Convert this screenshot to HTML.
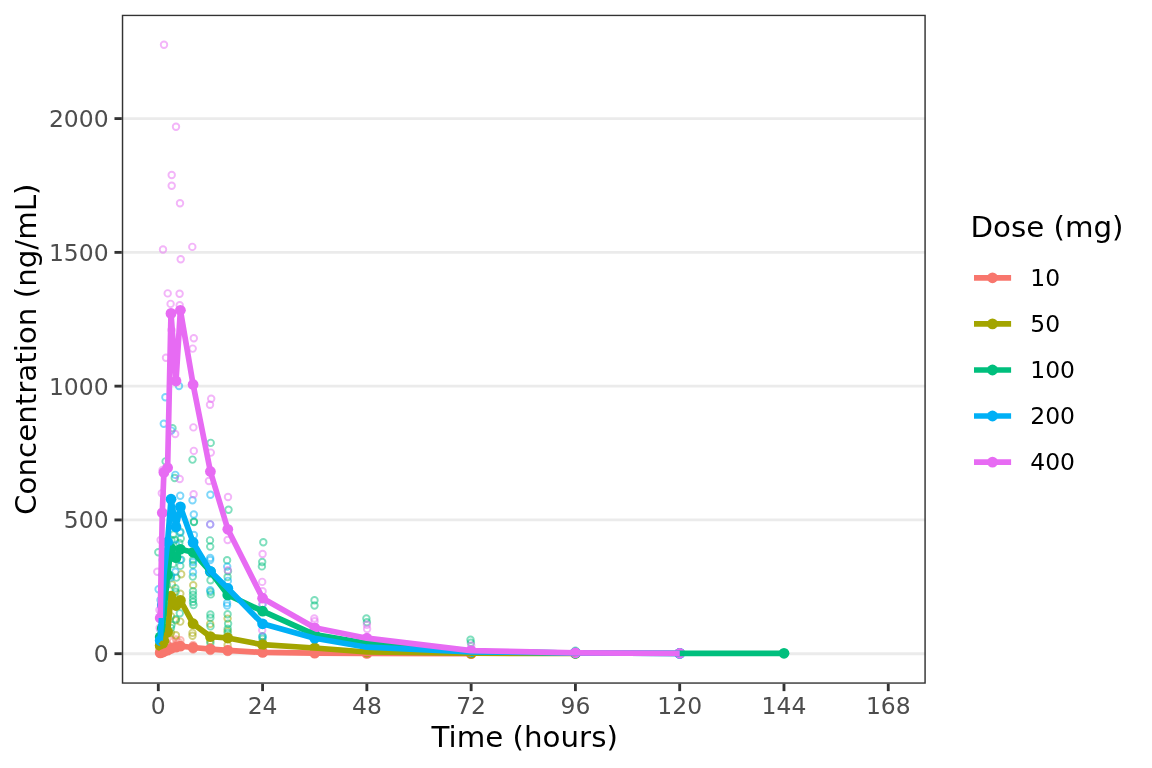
<!DOCTYPE html>
<html lang="en"><head><meta charset="utf-8"><title>Concentration vs time by dose</title>
<style>html,body{margin:0;padding:0;background:#fff}body{width:1152px;height:768px;overflow:hidden}svg{display:block}text{font-family:"DejaVu Sans", "Liberation Sans", sans-serif}.tk{font-size:23.47px;fill:#4D4D4D}.ti{font-size:29.33px;fill:#000}.lg{font-size:23.47px;fill:#000}.raw circle{fill:none;stroke-width:1.9;stroke-opacity:.5}</style></head><body>
<svg width="1152" height="768" viewBox="0 0 1152 768">
<rect width="1152" height="768" fill="#fff"/>
<clipPath id="pc"><rect x="121.80" y="14.67" width="804.00" height="669.13"/></clipPath>
<g clip-path="url(#pc)">
<line x1="121.8" x2="925.8" y1="653.70" y2="653.70" stroke="#EBEBEB" stroke-width="2.85"/>
<line x1="121.8" x2="925.8" y1="519.93" y2="519.93" stroke="#EBEBEB" stroke-width="2.85"/>
<line x1="121.8" x2="925.8" y1="386.15" y2="386.15" stroke="#EBEBEB" stroke-width="2.85"/>
<line x1="121.8" x2="925.8" y1="252.38" y2="252.38" stroke="#EBEBEB" stroke-width="2.85"/>
<line x1="121.8" x2="925.8" y1="118.60" y2="118.60" stroke="#EBEBEB" stroke-width="2.85"/>
<g class="raw">
<g stroke="#F8766D">
<circle cx="171.3" cy="640.0" r="3.25"/>
<circle cx="176.0" cy="639.5" r="3.25"/>
<circle cx="180.4" cy="640.3" r="3.25"/>
<circle cx="173.0" cy="641.5" r="3.25"/>
<circle cx="178.5" cy="642.0" r="3.25"/>
<circle cx="167.0" cy="644.0" r="3.25"/>
<circle cx="193.1" cy="645.0" r="3.25"/>
<circle cx="193.1" cy="649.5" r="3.25"/>
<circle cx="210.3" cy="647.5" r="3.25"/>
<circle cx="210.3" cy="651.0" r="3.25"/>
<circle cx="227.6" cy="649.0" r="3.25"/>
<circle cx="227.6" cy="652.0" r="3.25"/>
<circle cx="262.6" cy="652.0" r="3.25"/>
<circle cx="314.5" cy="653.0" r="3.25"/>
<circle cx="366.8" cy="653.4" r="3.25"/>
<circle cx="471.0" cy="653.6" r="3.25"/>
<circle cx="162.6" cy="648.0" r="3.25"/>
<circle cx="160.5" cy="651.0" r="3.25"/>
<circle cx="159.4" cy="652.5" r="3.25"/>
</g>
<g stroke="#A3A500">
<circle cx="181.2" cy="574.2" r="3.25"/>
<circle cx="172.0" cy="584.5" r="3.25"/>
<circle cx="180.3" cy="593.8" r="3.25"/>
<circle cx="172.5" cy="599.6" r="3.25"/>
<circle cx="171.0" cy="616.3" r="3.25"/>
<circle cx="175.9" cy="620.4" r="3.25"/>
<circle cx="180.3" cy="621.6" r="3.25"/>
<circle cx="175.9" cy="635.3" r="3.25"/>
<circle cx="171.0" cy="632.9" r="3.25"/>
<circle cx="193.2" cy="585.3" r="3.25"/>
<circle cx="192.5" cy="632.9" r="3.25"/>
<circle cx="192.5" cy="635.8" r="3.25"/>
<circle cx="210.2" cy="623.9" r="3.25"/>
<circle cx="227.6" cy="618.6" r="3.25"/>
<circle cx="227.6" cy="631.0" r="3.25"/>
<circle cx="227.6" cy="645.0" r="3.25"/>
<circle cx="167.0" cy="620.0" r="3.25"/>
<circle cx="167.2" cy="632.0" r="3.25"/>
<circle cx="162.6" cy="636.0" r="3.25"/>
<circle cx="162.7" cy="642.0" r="3.25"/>
<circle cx="160.5" cy="646.0" r="3.25"/>
<circle cx="159.4" cy="649.0" r="3.25"/>
<circle cx="210.3" cy="641.0" r="3.25"/>
<circle cx="262.6" cy="646.0" r="3.25"/>
<circle cx="262.6" cy="642.0" r="3.25"/>
<circle cx="314.5" cy="649.0" r="3.25"/>
<circle cx="366.8" cy="652.0" r="3.25"/>
<circle cx="471.0" cy="653.2" r="3.25"/>
<circle cx="575.4" cy="653.5" r="3.25"/>
</g>
<g stroke="#00BF7D">
<circle cx="172.5" cy="428.3" r="3.25"/>
<circle cx="210.7" cy="442.9" r="3.25"/>
<circle cx="192.5" cy="459.6" r="3.25"/>
<circle cx="165.6" cy="461.4" r="3.25"/>
<circle cx="174.7" cy="478.0" r="3.25"/>
<circle cx="228.5" cy="509.7" r="3.25"/>
<circle cx="193.9" cy="521.8" r="3.25"/>
<circle cx="210.0" cy="540.4" r="3.25"/>
<circle cx="210.2" cy="546.6" r="3.25"/>
<circle cx="263.3" cy="542.3" r="3.25"/>
<circle cx="227.1" cy="560.3" r="3.25"/>
<circle cx="262.2" cy="562.0" r="3.25"/>
<circle cx="261.9" cy="566.4" r="3.25"/>
<circle cx="180.3" cy="531.7" r="3.25"/>
<circle cx="173.4" cy="534.6" r="3.25"/>
<circle cx="174.9" cy="540.0" r="3.25"/>
<circle cx="180.8" cy="538.6" r="3.25"/>
<circle cx="179.3" cy="543.0" r="3.25"/>
<circle cx="181.2" cy="559.6" r="3.25"/>
<circle cx="180.3" cy="565.9" r="3.25"/>
<circle cx="173.0" cy="564.0" r="3.25"/>
<circle cx="176.4" cy="577.6" r="3.25"/>
<circle cx="171.0" cy="575.7" r="3.25"/>
<circle cx="175.4" cy="588.2" r="3.25"/>
<circle cx="175.6" cy="591.8" r="3.25"/>
<circle cx="194.0" cy="522.0" r="3.25"/>
<circle cx="193.0" cy="560.0" r="3.25"/>
<circle cx="193.0" cy="565.0" r="3.25"/>
<circle cx="192.8" cy="576.6" r="3.25"/>
<circle cx="193.0" cy="591.3" r="3.25"/>
<circle cx="193.0" cy="594.8" r="3.25"/>
<circle cx="193.0" cy="598.7" r="3.25"/>
<circle cx="193.0" cy="602.0" r="3.25"/>
<circle cx="193.5" cy="605.0" r="3.25"/>
<circle cx="210.5" cy="580.2" r="3.25"/>
<circle cx="210.8" cy="594.4" r="3.25"/>
<circle cx="210.5" cy="591.8" r="3.25"/>
<circle cx="210.4" cy="614.5" r="3.25"/>
<circle cx="210.4" cy="617.8" r="3.25"/>
<circle cx="210.5" cy="626.4" r="3.25"/>
<circle cx="210.4" cy="643.0" r="3.25"/>
<circle cx="227.6" cy="577.0" r="3.25"/>
<circle cx="228.0" cy="571.3" r="3.25"/>
<circle cx="227.6" cy="614.2" r="3.25"/>
<circle cx="228.1" cy="623.7" r="3.25"/>
<circle cx="227.7" cy="628.8" r="3.25"/>
<circle cx="227.7" cy="633.0" r="3.25"/>
<circle cx="262.5" cy="636.2" r="3.25"/>
<circle cx="262.5" cy="638.8" r="3.25"/>
<circle cx="179.8" cy="613.3" r="3.25"/>
<circle cx="175.9" cy="619.2" r="3.25"/>
<circle cx="171.5" cy="625.0" r="3.25"/>
<circle cx="171.0" cy="628.0" r="3.25"/>
<circle cx="314.5" cy="600.3" r="3.25"/>
<circle cx="314.5" cy="605.5" r="3.25"/>
<circle cx="366.4" cy="618.5" r="3.25"/>
<circle cx="366.9" cy="622.2" r="3.25"/>
<circle cx="470.5" cy="639.7" r="3.25"/>
<circle cx="470.9" cy="642.8" r="3.25"/>
<circle cx="158.3" cy="552.2" r="3.25"/>
<circle cx="167.0" cy="585.0" r="3.25"/>
<circle cx="167.2" cy="610.0" r="3.25"/>
<circle cx="162.6" cy="620.0" r="3.25"/>
<circle cx="162.7" cy="632.0" r="3.25"/>
<circle cx="160.5" cy="640.0" r="3.25"/>
<circle cx="159.4" cy="646.0" r="3.25"/>
<circle cx="575.4" cy="650.8" r="3.25"/>
<circle cx="575.2" cy="652.4" r="3.25"/>
<circle cx="679.7" cy="652.8" r="3.25"/>
<circle cx="784.0" cy="653.6" r="3.25"/>
<circle cx="171.4" cy="540.0" r="3.25"/>
<circle cx="176.0" cy="553.0" r="3.25"/>
</g>
<g stroke="#00B0F6">
<circle cx="179.0" cy="386.0" r="3.25"/>
<circle cx="165.4" cy="397.3" r="3.25"/>
<circle cx="163.8" cy="423.7" r="3.25"/>
<circle cx="175.3" cy="474.9" r="3.25"/>
<circle cx="180.2" cy="495.7" r="3.25"/>
<circle cx="210.4" cy="494.7" r="3.25"/>
<circle cx="192.5" cy="500.2" r="3.25"/>
<circle cx="193.8" cy="514.5" r="3.25"/>
<circle cx="210.2" cy="524.4" r="3.25"/>
<circle cx="193.9" cy="535.0" r="3.25"/>
<circle cx="210.2" cy="558.0" r="3.25"/>
<circle cx="210.2" cy="560.0" r="3.25"/>
<circle cx="227.2" cy="566.6" r="3.25"/>
<circle cx="193.0" cy="562.0" r="3.25"/>
<circle cx="193.0" cy="572.2" r="3.25"/>
<circle cx="180.3" cy="532.7" r="3.25"/>
<circle cx="180.3" cy="560.0" r="3.25"/>
<circle cx="175.4" cy="571.8" r="3.25"/>
<circle cx="171.0" cy="577.6" r="3.25"/>
<circle cx="158.6" cy="589.3" r="3.25"/>
<circle cx="210.2" cy="590.2" r="3.25"/>
<circle cx="227.9" cy="580.9" r="3.25"/>
<circle cx="227.1" cy="603.0" r="3.25"/>
<circle cx="227.1" cy="605.6" r="3.25"/>
<circle cx="262.5" cy="604.6" r="3.25"/>
<circle cx="262.5" cy="636.8" r="3.25"/>
<circle cx="176.0" cy="545.0" r="3.25"/>
<circle cx="171.3" cy="430.6" r="3.25"/>
<circle cx="171.2" cy="520.0" r="3.25"/>
<circle cx="167.2" cy="575.0" r="3.25"/>
<circle cx="167.0" cy="600.0" r="3.25"/>
<circle cx="162.7" cy="560.0" r="3.25"/>
<circle cx="162.5" cy="612.0" r="3.25"/>
<circle cx="160.5" cy="600.0" r="3.25"/>
<circle cx="160.6" cy="630.0" r="3.25"/>
<circle cx="159.5" cy="638.0" r="3.25"/>
<circle cx="159.4" cy="645.0" r="3.25"/>
<circle cx="314.5" cy="640.0" r="3.25"/>
<circle cx="314.5" cy="634.0" r="3.25"/>
<circle cx="366.8" cy="648.0" r="3.25"/>
<circle cx="366.8" cy="645.0" r="3.25"/>
<circle cx="471.0" cy="652.0" r="3.25"/>
<circle cx="575.4" cy="653.0" r="3.25"/>
<circle cx="679.7" cy="652.6" r="3.25"/>
</g>
<g stroke="#E76BF3">
<circle cx="164.0" cy="44.7" r="3.25"/>
<circle cx="176.0" cy="126.7" r="3.25"/>
<circle cx="171.7" cy="175.0" r="3.25"/>
<circle cx="171.7" cy="185.7" r="3.25"/>
<circle cx="180.0" cy="203.3" r="3.25"/>
<circle cx="163.0" cy="249.5" r="3.25"/>
<circle cx="192.3" cy="246.9" r="3.25"/>
<circle cx="180.7" cy="259.3" r="3.25"/>
<circle cx="167.7" cy="293.4" r="3.25"/>
<circle cx="179.6" cy="293.8" r="3.25"/>
<circle cx="170.6" cy="303.9" r="3.25"/>
<circle cx="179.7" cy="305.2" r="3.25"/>
<circle cx="193.8" cy="338.2" r="3.25"/>
<circle cx="192.7" cy="348.6" r="3.25"/>
<circle cx="166.0" cy="357.7" r="3.25"/>
<circle cx="211.2" cy="398.7" r="3.25"/>
<circle cx="210.0" cy="404.8" r="3.25"/>
<circle cx="193.4" cy="427.4" r="3.25"/>
<circle cx="193.8" cy="450.9" r="3.25"/>
<circle cx="210.8" cy="452.6" r="3.25"/>
<circle cx="179.7" cy="479.0" r="3.25"/>
<circle cx="208.9" cy="481.0" r="3.25"/>
<circle cx="161.8" cy="493.2" r="3.25"/>
<circle cx="193.6" cy="494.3" r="3.25"/>
<circle cx="228.0" cy="497.0" r="3.25"/>
<circle cx="210.2" cy="524.4" r="3.25"/>
<circle cx="227.6" cy="540.0" r="3.25"/>
<circle cx="262.6" cy="554.0" r="3.25"/>
<circle cx="227.8" cy="570.3" r="3.25"/>
<circle cx="157.3" cy="571.8" r="3.25"/>
<circle cx="262.2" cy="581.9" r="3.25"/>
<circle cx="262.6" cy="591.3" r="3.25"/>
<circle cx="262.4" cy="604.3" r="3.25"/>
<circle cx="262.2" cy="630.3" r="3.25"/>
<circle cx="314.3" cy="618.5" r="3.25"/>
<circle cx="314.6" cy="621.2" r="3.25"/>
<circle cx="366.9" cy="624.8" r="3.25"/>
<circle cx="367.1" cy="629.0" r="3.25"/>
<circle cx="471.2" cy="645.6" r="3.25"/>
<circle cx="171.5" cy="330.0" r="3.25"/>
<circle cx="175.2" cy="434.0" r="3.25"/>
<circle cx="162.6" cy="470.0" r="3.25"/>
<circle cx="160.6" cy="540.0" r="3.25"/>
<circle cx="159.4" cy="610.0" r="3.25"/>
<circle cx="159.6" cy="628.0" r="3.25"/>
<circle cx="575.4" cy="652.6" r="3.25"/>
<circle cx="679.7" cy="653.2" r="3.25"/>
</g>
</g>
<g fill="#F8766D">
<circle cx="160.2" cy="652.9" r="5.4"/>
<circle cx="162.3" cy="652.3" r="5.4"/>
<circle cx="163.9" cy="651.5" r="5.4"/>
<circle cx="167.6" cy="650.2" r="5.4"/>
<circle cx="171.0" cy="648.5" r="5.4"/>
<circle cx="176.0" cy="647.2" r="5.4"/>
<circle cx="180.4" cy="646.2" r="5.4"/>
<circle cx="193.1" cy="647.5" r="5.4"/>
<circle cx="210.4" cy="649.1" r="5.4"/>
<circle cx="227.8" cy="650.4" r="5.4"/>
<circle cx="262.6" cy="652.4" r="5.4"/>
<circle cx="314.7" cy="653.1" r="5.4"/>
<circle cx="366.9" cy="653.4" r="5.4"/>
<circle cx="471.1" cy="653.6" r="5.4"/>
</g>
<g fill="#A3A500">
<circle cx="160.2" cy="645.5" r="5.4"/>
<circle cx="162.3" cy="644.0" r="5.4"/>
<circle cx="163.9" cy="641.0" r="5.4"/>
<circle cx="167.6" cy="632.0" r="5.4"/>
<circle cx="171.0" cy="596.2" r="5.4"/>
<circle cx="176.0" cy="605.5" r="5.4"/>
<circle cx="180.4" cy="600.4" r="5.4"/>
<circle cx="193.1" cy="623.7" r="5.4"/>
<circle cx="210.4" cy="636.6" r="5.4"/>
<circle cx="227.8" cy="638.0" r="5.4"/>
<circle cx="262.6" cy="644.7" r="5.4"/>
<circle cx="314.7" cy="648.0" r="5.4"/>
<circle cx="366.9" cy="652.0" r="5.4"/>
<circle cx="471.1" cy="653.2" r="5.4"/>
<circle cx="575.4" cy="653.5" r="5.4"/>
</g>
<g fill="#00BF7D">
<circle cx="160.2" cy="637.0" r="5.4"/>
<circle cx="162.3" cy="628.0" r="5.4"/>
<circle cx="163.9" cy="612.0" r="5.4"/>
<circle cx="167.6" cy="575.0" r="5.4"/>
<circle cx="171.0" cy="548.3" r="5.4"/>
<circle cx="176.0" cy="557.6" r="5.4"/>
<circle cx="180.4" cy="549.3" r="5.4"/>
<circle cx="193.1" cy="552.3" r="5.4"/>
<circle cx="210.4" cy="571.6" r="5.4"/>
<circle cx="227.8" cy="594.9" r="5.4"/>
<circle cx="262.6" cy="611.2" r="5.4"/>
<circle cx="314.7" cy="634.6" r="5.4"/>
<circle cx="366.9" cy="643.4" r="5.4"/>
<circle cx="471.1" cy="651.5" r="5.4"/>
<circle cx="575.4" cy="653.0" r="5.4"/>
<circle cx="679.7" cy="653.3" r="5.4"/>
<circle cx="784.0" cy="653.3" r="5.4"/>
</g>
<g fill="#00B0F6">
<circle cx="160.2" cy="640.5" r="5.4"/>
<circle cx="162.3" cy="605.0" r="5.4"/>
<circle cx="163.9" cy="575.0" r="5.4"/>
<circle cx="167.6" cy="542.0" r="5.4"/>
<circle cx="171.0" cy="499.2" r="5.4"/>
<circle cx="176.0" cy="527.0" r="5.4"/>
<circle cx="180.4" cy="506.8" r="5.4"/>
<circle cx="193.1" cy="542.4" r="5.4"/>
<circle cx="210.4" cy="571.3" r="5.4"/>
<circle cx="227.8" cy="588.3" r="5.4"/>
<circle cx="262.6" cy="623.8" r="5.4"/>
<circle cx="314.7" cy="638.2" r="5.4"/>
<circle cx="366.9" cy="647.2" r="5.4"/>
<circle cx="471.1" cy="651.8" r="5.4"/>
<circle cx="575.4" cy="653.0" r="5.4"/>
<circle cx="679.7" cy="653.4" r="5.4"/>
</g>
<g fill="#E76BF3">
<circle cx="160.2" cy="618.0" r="5.4"/>
<circle cx="162.3" cy="512.8" r="5.4"/>
<circle cx="163.9" cy="472.4" r="5.4"/>
<circle cx="167.6" cy="467.8" r="5.4"/>
<circle cx="171.0" cy="313.4" r="5.4"/>
<circle cx="176.0" cy="381.0" r="5.4"/>
<circle cx="180.4" cy="310.3" r="5.4"/>
<circle cx="193.1" cy="384.5" r="5.4"/>
<circle cx="210.4" cy="471.5" r="5.4"/>
<circle cx="227.8" cy="529.3" r="5.4"/>
<circle cx="262.6" cy="598.2" r="5.4"/>
<circle cx="314.7" cy="627.8" r="5.4"/>
<circle cx="366.9" cy="638.2" r="5.4"/>
<circle cx="471.1" cy="650.6" r="5.4"/>
<circle cx="575.4" cy="652.8" r="5.4"/>
<circle cx="679.7" cy="653.3" r="5.4"/>
</g>
<polyline points="160.2,652.9 162.3,652.3 163.9,651.5 167.6,650.2 171.0,648.5 176.0,647.2 180.4,646.2 193.1,647.5 210.4,649.1 227.8,650.4 262.6,652.4 314.7,653.1 366.9,653.4 471.1,653.6" fill="none" stroke="#F8766D" stroke-width="5.7" stroke-linejoin="round" stroke-linecap="butt"/>
<polyline points="160.2,645.5 162.3,644.0 163.9,641.0 167.6,632.0 171.0,596.2 176.0,605.5 180.4,600.4 193.1,623.7 210.4,636.6 227.8,638.0 262.6,644.7 314.7,648.0 366.9,652.0 471.1,653.2 575.4,653.5" fill="none" stroke="#A3A500" stroke-width="5.7" stroke-linejoin="round" stroke-linecap="butt"/>
<polyline points="160.2,637.0 162.3,628.0 163.9,612.0 167.6,575.0 171.0,548.3 176.0,557.6 180.4,549.3 193.1,552.3 210.4,571.6 227.8,594.9 262.6,611.2 314.7,634.6 366.9,643.4 471.1,651.5 575.4,653.0 679.7,653.3 784.0,653.3" fill="none" stroke="#00BF7D" stroke-width="5.7" stroke-linejoin="round" stroke-linecap="butt"/>
<polyline points="160.2,640.5 162.3,605.0 163.9,575.0 167.6,542.0 171.0,499.2 176.0,527.0 180.4,506.8 193.1,542.4 210.4,571.3 227.8,588.3 262.6,623.8 314.7,638.2 366.9,647.2 471.1,651.8 575.4,653.0 679.7,653.4" fill="none" stroke="#00B0F6" stroke-width="5.7" stroke-linejoin="round" stroke-linecap="butt"/>
<polyline points="160.2,618.0 162.3,512.8 163.9,472.4 167.6,467.8 171.0,313.4 176.0,381.0 180.4,310.3 193.1,384.5 210.4,471.5 227.8,529.3 262.6,598.2 314.7,627.8 366.9,638.2 471.1,650.6 575.4,652.8 679.7,653.3" fill="none" stroke="#E76BF3" stroke-width="5.7" stroke-linejoin="round" stroke-linecap="butt"/>
<rect x="121.80" y="14.67" width="804.00" height="669.13" fill="none" stroke="#333" stroke-width="2.9"/>
</g>
<g stroke="#333" stroke-width="2.85">
<line x1="114.47" x2="121.80" y1="653.70" y2="653.70"/>
<line x1="114.47" x2="121.80" y1="519.93" y2="519.93"/>
<line x1="114.47" x2="121.80" y1="386.15" y2="386.15"/>
<line x1="114.47" x2="121.80" y1="252.38" y2="252.38"/>
<line x1="114.47" x2="121.80" y1="118.60" y2="118.60"/>
<line x1="158.30" x2="158.30" y1="683.80" y2="691.13"/>
<line x1="262.58" x2="262.58" y1="683.80" y2="691.13"/>
<line x1="366.86" x2="366.86" y1="683.80" y2="691.13"/>
<line x1="471.14" x2="471.14" y1="683.80" y2="691.13"/>
<line x1="575.42" x2="575.42" y1="683.80" y2="691.13"/>
<line x1="679.70" x2="679.70" y1="683.80" y2="691.13"/>
<line x1="783.98" x2="783.98" y1="683.80" y2="691.13"/>
<line x1="888.26" x2="888.26" y1="683.80" y2="691.13"/>
</g>
<text class="tk" text-anchor="end" transform="translate(108.6 662.0) scale(1 0.970)">0</text>
<text class="tk" text-anchor="end" transform="translate(108.6 528.2) scale(1 0.970)">500</text>
<text class="tk" text-anchor="end" transform="translate(108.6 394.5) scale(1 0.970)">1000</text>
<text class="tk" text-anchor="end" transform="translate(108.6 260.7) scale(1 0.970)">1500</text>
<text class="tk" text-anchor="end" transform="translate(108.6 126.9) scale(1 0.970)">2000</text>
<text class="tk" text-anchor="middle" transform="translate(158.3 713.9) scale(1 0.970)">0</text>
<text class="tk" text-anchor="middle" transform="translate(262.6 713.9) scale(1 0.970)">24</text>
<text class="tk" text-anchor="middle" transform="translate(366.9 713.9) scale(1 0.970)">48</text>
<text class="tk" text-anchor="middle" transform="translate(471.1 713.9) scale(1 0.970)">72</text>
<text class="tk" text-anchor="middle" transform="translate(575.4 713.9) scale(1 0.970)">96</text>
<text class="tk" text-anchor="middle" transform="translate(679.7 713.9) scale(1 0.970)">120</text>
<text class="tk" text-anchor="middle" transform="translate(784.0 713.9) scale(1 0.970)">144</text>
<text class="tk" text-anchor="middle" transform="translate(888.3 713.9) scale(1 0.970)">168</text>
<text class="ti" text-anchor="middle" transform="translate(524.7 746.6) scale(1 0.955)">Time (hours)</text>
<text class="ti" text-anchor="middle" transform="translate(35.6 349.2) rotate(-90) scale(1 0.955)">Concentration (ng/mL)</text>
<text class="ti" text-anchor="start" transform="translate(970.4 236.8) scale(1 0.955)">Dose (mg)</text>
<line x1="974" x2="1011.1" y1="277.8" y2="277.8" stroke="#F8766D" stroke-width="5.7"/>
<circle cx="992.5" cy="277.8" r="5.4" fill="#F8766D"/>
<text class="lg" text-anchor="start" transform="translate(1030.2 285.8) scale(1 0.970)">10</text>
<line x1="974" x2="1011.1" y1="323.9" y2="323.9" stroke="#A3A500" stroke-width="5.7"/>
<circle cx="992.5" cy="323.9" r="5.4" fill="#A3A500"/>
<text class="lg" text-anchor="start" transform="translate(1030.2 331.9) scale(1 0.970)">50</text>
<line x1="974" x2="1011.1" y1="370.0" y2="370.0" stroke="#00BF7D" stroke-width="5.7"/>
<circle cx="992.5" cy="370.0" r="5.4" fill="#00BF7D"/>
<text class="lg" text-anchor="start" transform="translate(1030.2 378.0) scale(1 0.970)">100</text>
<line x1="974" x2="1011.1" y1="416.0" y2="416.0" stroke="#00B0F6" stroke-width="5.7"/>
<circle cx="992.5" cy="416.0" r="5.4" fill="#00B0F6"/>
<text class="lg" text-anchor="start" transform="translate(1030.2 424.0) scale(1 0.970)">200</text>
<line x1="974" x2="1011.1" y1="462.1" y2="462.1" stroke="#E76BF3" stroke-width="5.7"/>
<circle cx="992.5" cy="462.1" r="5.4" fill="#E76BF3"/>
<text class="lg" text-anchor="start" transform="translate(1030.2 470.1) scale(1 0.970)">400</text>
</svg></body></html>
